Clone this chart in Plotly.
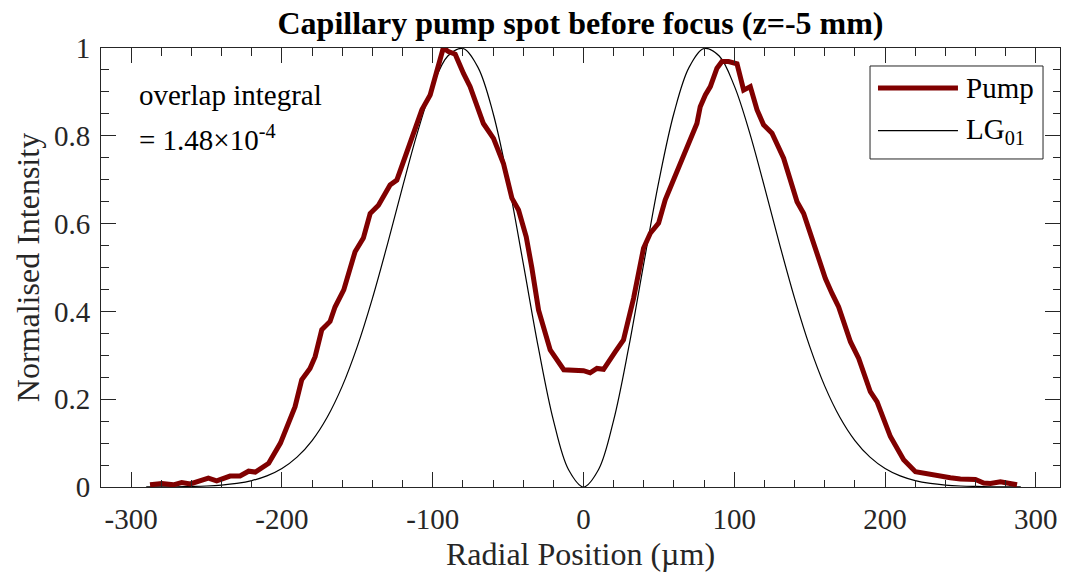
import plotly.graph_objects as go

# Measured pump beam radial profile (normalised)
pump_r = [-287.5, -279.6, -272, -266.5, -260.8, -255.3, -248.8, -243.3, -237.7, -234.4,
          -227.8, -222.1, -217.7, -208.8, -201, -195.7, -191.3, -186.9, -181.4, -178,
          -173.6, -168.1, -164.8, -159, -151.5, -146, -141.5, -136, -128.3, -123.8,
          -116.1, -107.2, -101.7, -97.1, -93, -89.6, -85.1, -79.6, -75.2, -66.4,
          -59.7, -53.1, -47.5, -43.1, -38, -34.3, -29.8, -22.1, -13.1, 0,
          4.4, 8.9, 13.3, 21, 26.5, 33.2, 39.8, 44.3, 49.8, 54.2,
          60.8, 67.5, 75.2, 77.4, 80.8, 84.1, 88.5, 91.8, 96.2, 101.8,
          106.2, 110.6, 115.1, 119.4, 125, 132.7, 137.1, 141.6, 146, 153.7,
          160.4, 164.8, 169.2, 177, 182.5, 190.2, 194.7, 203.5, 212.3, 220.1,
          225.6, 234.5, 243.3, 249.9, 259.9, 265.4, 269.9, 276.5, 281, 287.5]
pump_i = [0.005, 0.008, 0.005, 0.010, 0.007, 0.014, 0.020, 0.014, 0.022, 0.025,
          0.025, 0.036, 0.034, 0.054, 0.100, 0.145, 0.183, 0.244, 0.270, 0.297,
          0.358, 0.377, 0.410, 0.449, 0.536, 0.567, 0.623, 0.642, 0.688, 0.699,
          0.775, 0.859, 0.893, 0.946, 1.000, 0.992, 0.986, 0.942, 0.912, 0.828,
          0.794, 0.737, 0.658, 0.631, 0.570, 0.500, 0.403, 0.312, 0.267, 0.265,
          0.260, 0.270, 0.268, 0.308, 0.335, 0.430, 0.544, 0.578, 0.601, 0.654,
          0.707, 0.768, 0.828, 0.866, 0.893, 0.912, 0.954, 0.969, 0.969, 0.964,
          0.904, 0.912, 0.859, 0.825, 0.806, 0.749, 0.700, 0.650, 0.623, 0.547,
          0.475, 0.441, 0.410, 0.331, 0.293, 0.217, 0.194, 0.115, 0.062, 0.035,
          0.031, 0.026, 0.021, 0.018, 0.017, 0.009, 0.008, 0.012, 0.008, 0.005]

# LG01 mode intensity profile
lg_r = [-290, -280, -270, -260, -250, -240, -230, -220, -210, -200, -190, -180, -170, -160,
        -150, -140, -130, -120, -110, -100, -90, -80, -70, -60, -50, -40, -30, -20, -10,
        0, 10, 20, 30, 40, 50, 60, 70, 80, 90, 100, 110, 120, 130, 140, 150, 160, 170,
        180, 190, 200, 210, 220, 230, 240, 250, 260, 270, 280, 290]
lg_i = [0.0001, 0.0003, 0.0006, 0.0012, 0.0023, 0.0044, 0.0082, 0.0146, 0.0253, 0.0422,
        0.0680, 0.1058, 0.1589, 0.2298, 0.3203, 0.4297, 0.5534, 0.6838, 0.8091, 0.9137,
        0.9817, 0.9988, 0.9559, 0.8520, 0.6969, 0.5099, 0.3184, 0.1524, 0.0398,
        0.0, 0.0398, 0.1524, 0.3184, 0.5099, 0.6969, 0.8520, 0.9559, 0.9988, 0.9817,
        0.9137, 0.8091, 0.6838, 0.5534, 0.4297, 0.3203, 0.2298, 0.1589, 0.1058, 0.0680,
        0.0422, 0.0253, 0.0146, 0.0082, 0.0044, 0.0023, 0.0012, 0.0006, 0.0003, 0.0001]

x_ticks = [-300, -200, -100, 0, 100, 200, 300]
x_ticktext = ["-300", "-200", "-100", "0", "100", "200", "300"]
y_ticks = [0, 0.2, 0.4, 0.6, 0.8, 1]
y_ticktext = ["0", "0.2", "0.4", "0.6", "0.8", "1"]

FONT = "Liberation Serif, Times New Roman, serif"
INK = "#262626"
PUMP_COLOR = "#800000"

fig = go.Figure()
fig.add_trace(go.Scatter(x=lg_r, y=lg_i, mode="lines", name="LG01",
                         line=dict(color="black", width=1.2, shape="spline", smoothing=1.0),
                         showlegend=False))
fig.add_trace(go.Scatter(x=pump_r, y=pump_i, mode="lines", name="Pump",
                         line=dict(color=PUMP_COLOR, width=5),
                         showlegend=False))

axis_common = dict(
    showline=True, linecolor=INK, linewidth=1, mirror="ticks",
    ticks="inside", ticklen=15, tickwidth=1, tickcolor=INK,
    showgrid=False, zeroline=False,
    tickfont=dict(family=FONT, size=29, color=INK),
)

fig.update_xaxes(
    range=[-320, 316], tickmode="array", tickvals=x_ticks, ticktext=x_ticktext,
    minor=dict(ticks="inside", ticklen=7.5, tickwidth=1, tickcolor=INK,
               tickmode="array", tickvals=list(range(-320, 321, 20)), showgrid=False),
    title=dict(text="Radial Position (µm)", font=dict(family=FONT, size=32, color=INK),
               standoff=8),
    ticklabelstandoff=6,
    **axis_common,
)
fig.update_yaxes(
    range=[0, 1], tickmode="array", tickvals=y_ticks, ticktext=y_ticktext,
    minor=dict(ticks="inside", ticklen=7.5, tickwidth=1, tickcolor=INK,
               tickmode="array", tickvals=[i * 0.05 for i in range(21)], showgrid=False),
    title=dict(text="Normalised Intensity", font=dict(family=FONT, size=32, color=INK),
               standoff=4),
    ticklabelstandoff=4,
    **axis_common,
)

# Legend box drawn by hand so the line samples are long
fig.add_shape(type="rect", xref="paper", yref="paper", x0=0.8019, x1=0.9823, y0=0.7472, y1=0.959,
              line=dict(color=INK, width=1), fillcolor="white", layer="above")
fig.add_shape(type="line", xref="paper", yref="paper", x0=0.8102, x1=0.8936, y0=0.9089, y1=0.9089,
              line=dict(color=PUMP_COLOR, width=5), layer="above")
fig.add_shape(type="line", xref="paper", yref="paper", x0=0.8102, x1=0.8936, y0=0.8116, y1=0.8116,
              line=dict(color="black", width=1.2), layer="above")
fig.add_annotation(xref="paper", yref="paper", x=0.9, y=0.9089, xanchor="left", yanchor="middle",
                   text="Pump", showarrow=False, font=dict(family=FONT, size=29, color="black"))
fig.add_annotation(xref="paper", yref="paper", x=0.9, y=0.8116, xanchor="left", yanchor="middle",
                   text="LG<sub>01</sub>", showarrow=False, font=dict(family=FONT, size=29, color="black"))

# Overlap integral note
fig.add_annotation(xref="paper", yref="paper", x=0.038, y=0.935, xanchor="left", yanchor="top",
                   text="overlap integral", showarrow=False, font=dict(family=FONT, size=29, color="black"))
fig.add_annotation(xref="paper", yref="paper", x=0.038, y=0.84, xanchor="left", yanchor="top",
                   text="= 1.48×10<sup>-4</sup>", showarrow=False, font=dict(family=FONT, size=29, color="black"))

fig.update_layout(
    width=1066, height=573,
    margin=dict(l=101, r=6, t=48, b=86),
    paper_bgcolor="white", plot_bgcolor="white",
    title=dict(text="<b>Capillary pump spot before focus (z=-5 mm)</b>",
               font=dict(family=FONT, size=32, color="black"),
               x=0.5, xanchor="center", xref="paper", y=0.96, yanchor="middle"),
    showlegend=False,
)

fig.write_html("out.html")
